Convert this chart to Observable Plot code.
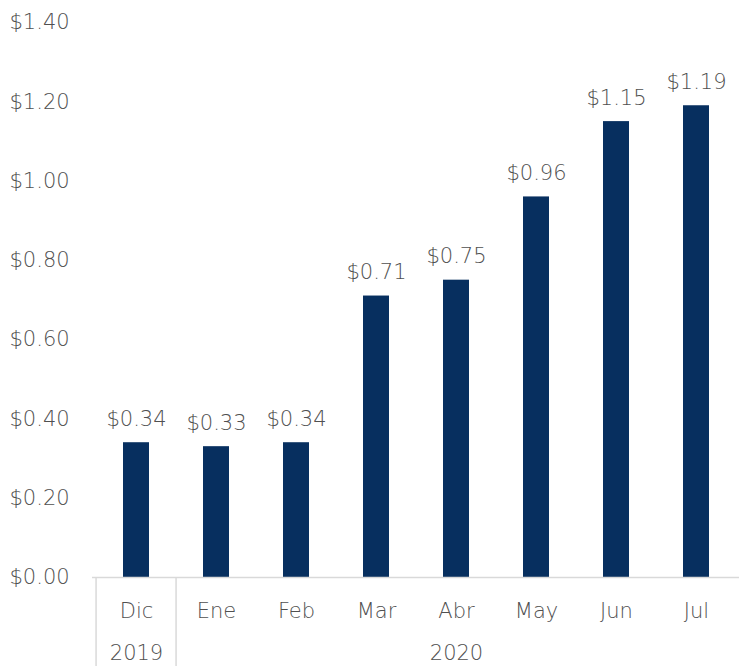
<!DOCTYPE html>
<html>
<head>
<meta charset="utf-8">
<script src="https://cdn.jsdelivr.net/npm/d3@7"></script>
<script src="https://cdn.jsdelivr.net/npm/@observablehq/plot@0.6"></script>
<style>
  body { margin: 0; background: #fff; }
  svg { display: block; }
</style>
</head>
<body>
<div id="chart"></div>
<script>
const months = ["Dic", "Ene", "Feb", "Mar", "Abr", "May", "Jun", "Jul"];
const values = [0.34, 0.33, 0.34, 0.71, 0.75, 0.96, 1.15, 1.19];
const yearLabels = ["2019", "2020"];
const yearAnchorMonth = ["Dic", "Abr"];
const yearStartMonth = ["Dic", "Ene"];
const yTicks = [0, 0.2, 0.4, 0.6, 0.8, 1.0, 1.2, 1.4];

const data = months.map((m, i) => ({month: m, value: values[i]}));
const years = yearLabels.map((y, i) => ({year: y, month: yearAnchorMonth[i]}));

const W = 739, H = 666;
const marginLeft = 92, marginRight = 0;
const bandW = (W - marginLeft - marginRight) / months.length;
const fmt = v => "$" + v.toFixed(2);
const grey = "#505050";
const font = "'DejaVu Sans', sans-serif";
const fs = 21;

const chart = Plot.plot({
  width: W,
  height: H,
  marginTop: 22,
  marginBottom: 89,
  marginLeft,
  marginRight,
  style: {fontFamily: font, fontSize: fs + "px", fontWeight: 200, color: grey, background: "#fff"},
  x: {domain: months, paddingInner: 0.68, paddingOuter: 0.34, label: null},
  y: {domain: [0, 1.4], label: null},
  marks: [
    Plot.axisY({ticks: yTicks, tickSize: 0, tickFormat: fmt, textAnchor: "start", dx: -74, fill: grey, fontSize: fs, fontWeight: 200, label: null}),
    Plot.axisX({tickSize: 0, tickPadding: 26, fill: grey, fontSize: fs, fontWeight: 200, label: null}),
    Plot.barY(data, {x: "month", y: "value", fill: "#072f5f"}),
    Plot.text(data, {x: "month", y: "value", text: d => fmt(d.value), lineAnchor: "bottom", dy: -17, fill: grey, fontSize: fs, fontWeight: 200}),
    Plot.ruleY([0], {stroke: "#d9d9d9", strokeWidth: 1.5}),
    Plot.ruleX(yearStartMonth, {x: d => d, y1: 0, y2: -0.25, dx: -bandW / 2, stroke: "#d9d9d9", strokeWidth: 1.5}),
    Plot.text(years, {x: "month", y: 0, text: "year", dy: 76, fill: grey, fontSize: fs, fontWeight: 200})
  ]
});
document.getElementById("chart").appendChild(chart);
</script>
</body>
</html>
